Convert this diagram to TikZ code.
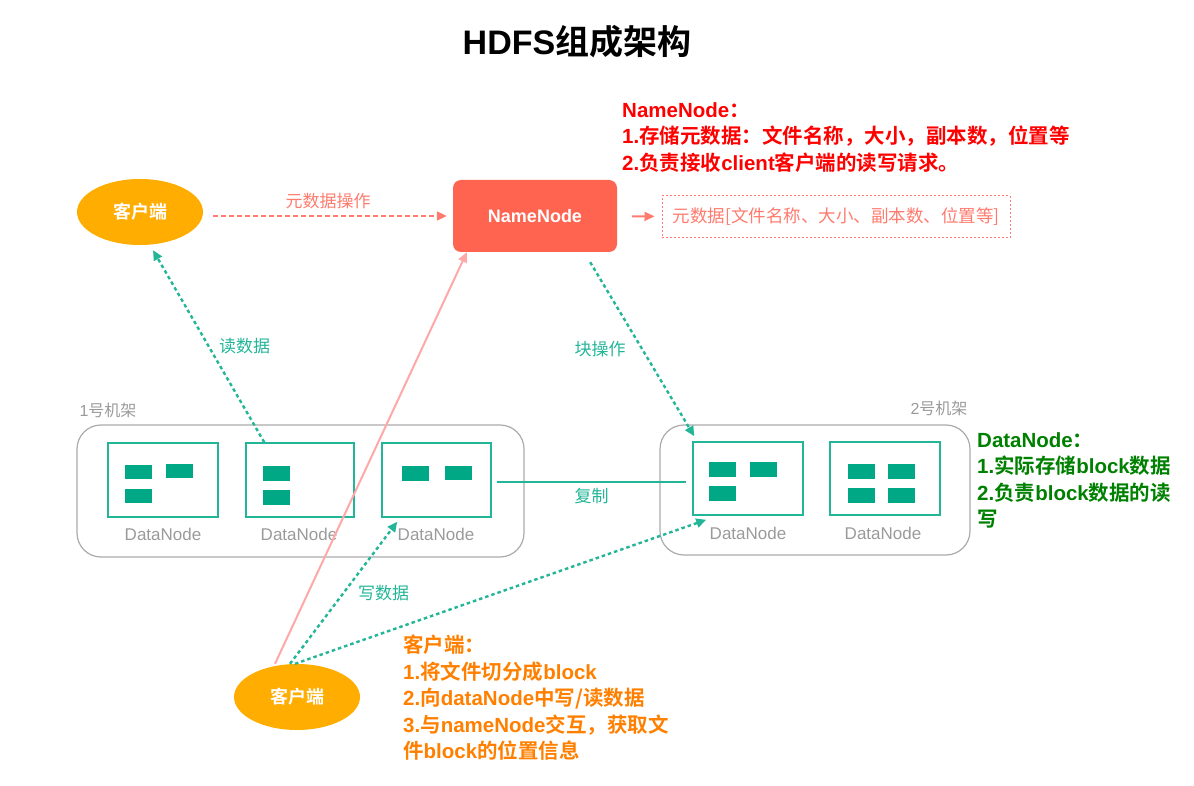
\documentclass[tikz,border=0pt]{standalone}
\usepackage{fontspec}
\setmainfont{Liberation Sans}
\setsansfont{Liberation Sans}
\newfontfamily\cjk{Noto Sans CJK SC}[BoldFont = Noto Sans CJK SC Bold]
\usepackage{xcolor}
\usetikzlibrary{arrows,arrows.meta,shapes,positioning,calc}
\definecolor{clientorange}{HTML}{FFAD00}
\definecolor{namered}{HTML}{FF6450}
\definecolor{metared}{HTML}{FF7B6E}
\definecolor{dnteal}{HTML}{22B597}
\definecolor{blockteal}{HTML}{00A886}
\definecolor{rackgray}{HTML}{ABABAB}
\definecolor{labelgray}{HTML}{9A9A9A}
\definecolor{pinkline}{HTML}{FFA8A8}
\definecolor{notered}{HTML}{FF0000}
\definecolor{notegreen}{HTML}{008000}
\definecolor{noteorange}{HTML}{FF8000}

\begin{document}
\begin{tikzpicture}[x = 1pt, y = -1pt,
  client/.style = {ellipse, fill = clientorange, minimum width = 126pt, minimum height = 66pt, inner sep = 0pt, text = white, font = \cjk\bfseries\fontsize{18}{20}\selectfont},
  datanode/.style = {draw = dnteal, line width = 1.5pt, minimum width = 110pt, minimum height = 74pt, inner sep = 0pt},
  rack/.style = {draw = rackgray, line width = 1.2pt, rounded corners = 24pt, inner sep = 0pt},
  dnlabel/.style = {text = labelgray, font = \sffamily\fontsize{17}{20}\selectfont},
  racklabel/.style = {text = labelgray, font = \fontsize{16}{20}\selectfont},
  tealtext/.style = {text = dnteal, font = \cjk\fontsize{17}{20}\selectfont},
  tip/.style = {-{Triangle[length = 10pt, width = 9pt]}},
  tealarrow/.style = {tip, dnteal, line width = 2.4pt, dash pattern = on 3.5pt off 3pt},
  note/.style = {anchor = north west, inner sep = 0pt, align = left, font = \bfseries\fontsize{20.5}{26.5}\selectfont}]
\useasboundingbox (0,0) rectangle (1194,786);

\node (title) at (577,42) {\fontsize{34}{40}\selectfont\bfseries HDFS{\cjk 组成架构}};

% clients and namenode
\node[client] (client1) at (140,212) {客户端};
\node[client] (client2) at (297,697) {客户端};
\node[rounded corners = 8pt, fill = namered, minimum width = 164pt, minimum height = 72pt, text = white, font = \sffamily\bfseries\fontsize{18}{20}\selectfont] (namenode) at (535,216) {NameNode};
\node[draw = metared, line width = 1pt, dash pattern = on 2pt off 2pt, minimum width = 348pt, minimum height = 42pt, text = metared, font = \cjk\fontsize{17.5}{20}\selectfont] (meta) at (836,217) {元数据[文件名称、大小、副本数、位置等]};

\draw[tip, metared, line width = 2pt, dash pattern = on 5pt off 3pt, shorten <= 10pt, shorten >= 6pt] (client1.east |- namenode.west) -- (namenode.west) node[midway, above = 3pt, text = metared, font = \cjk\fontsize{17}{20}\selectfont] (metaop) {元数据操作};
\draw[tip, metared, line width = 2pt, shorten <= 15pt, shorten >= 7pt] (namenode) -- (meta);

% racks
\node[rack, minimum width = 447pt, minimum height = 132pt] (rack1) at (300.5,491) {};
\node[rack, minimum width = 310pt, minimum height = 130pt] (rack2) at (815,490) {};
\node[racklabel, anchor = west] (rack1lbl) at (76,410) {1{\cjk 号机架}};
\node[racklabel, anchor = east] (rack2lbl) at (971,408) {2{\cjk 号机架}};

% datanodes
\node[datanode] (dn1) at (163,480) {};
\node[datanode, minimum width = 108pt] (dn2) at (300,480) {};
\node[datanode, minimum width = 109pt] (dn3) at (436.5,480) {};
\node[datanode, minimum height = 73pt] (dn4) at (748,478.5) {};
\node[datanode, minimum height = 73pt] (dn5) at (885,478.5) {};
\node[dnlabel] (dn1lbl) at (163,534) {DataNode};
\node[dnlabel] (dn2lbl) at (299,534) {DataNode};
\node[dnlabel] (dn3lbl) at (436,534) {DataNode};
\node[dnlabel] (dn4lbl) at (748,533) {DataNode};
\node[dnlabel] (dn5lbl) at (883,533) {DataNode};

% blocks
\fill[blockteal] (125,465) rectangle (152,479);
\fill[blockteal] (166,464) rectangle (193,478);
\fill[blockteal] (125,489) rectangle (152,503);
\fill[blockteal] (263,466) rectangle (290,481);
\fill[blockteal] (263,490) rectangle (290,505);
\fill[blockteal] (402,466) rectangle (429,481);
\fill[blockteal] (445,466) rectangle (472,480);
\fill[blockteal] (709,462) rectangle (736,477);
\fill[blockteal] (750,462) rectangle (777,477);
\fill[blockteal] (709,486) rectangle (736,501);
\fill[blockteal] (848,464) rectangle (875,479);
\fill[blockteal] (888,464) rectangle (915,479);
\fill[blockteal] (848,488) rectangle (875,503);
\fill[blockteal] (888,488) rectangle (915,503);

% connectors
\draw[dnteal, line width = 1.5pt] ([xshift = 5pt, yshift = -2pt]dn3.east) -- ([xshift = -6pt, yshift = -3.5pt]dn4.west) node[midway, below = 2pt, tealtext] (copy) {复制};
\draw[tealarrow] ([xshift = 19pt]dn2.north west) -- ([xshift = 13pt, yshift = -5pt]client1.south) node[pos = 0.5, right = 6pt, tealtext] (read) {读数据};
\draw[tealarrow] ([xshift = -27pt, yshift = -10pt]namenode.south east) -- ([xshift = 2pt, yshift = 5pt]dn4.north west) node[pos = 0.5, left = 12pt, tealtext] (blockop) {块操作};
\draw[tip, pinkline, line width = 2pt] ([xshift = -22pt]client2.north) -- ([xshift = 14pt]namenode.south west);
\draw[tealarrow] ([xshift = -7pt]client2.north) -- ([xshift = 16pt, yshift = -4pt]dn3.south west) node[pos = 0.5, right = 10pt, tealtext] (write) {写数据};
\draw[tealarrow] ([xshift = -2pt]client2.north) -- ([xshift = 14pt, yshift = -4pt]dn4.south west);

% notes
\node[note, text = notered] (namenote) at (622,102) {NameNode{\cjk ：}\\1.{\cjk 存储元数据：文件名称，大小，副本数，位置等}\\2.{\cjk 负责接收}client{\cjk 客户端的读写请求。}};
\node[note, text = notegreen] (datanote) at (977,432) {DataNode{\cjk ：}\\1.{\cjk 实际存储}block{\cjk 数据}\\2.{\cjk 负责}block{\cjk 数据的读}\\{\cjk 写}};
\node[note, text = noteorange] (clientnote) at (403,635) {{\cjk 客户端：}\\1.{\cjk 将文件切分成}block\\2.{\cjk 向}dataNode{\cjk 中写/读数据}\\3.{\cjk 与}nameNode{\cjk 交互，获取文}\\{\cjk 件}block{\cjk 的位置信息}};
\end{tikzpicture}
\end{document}
